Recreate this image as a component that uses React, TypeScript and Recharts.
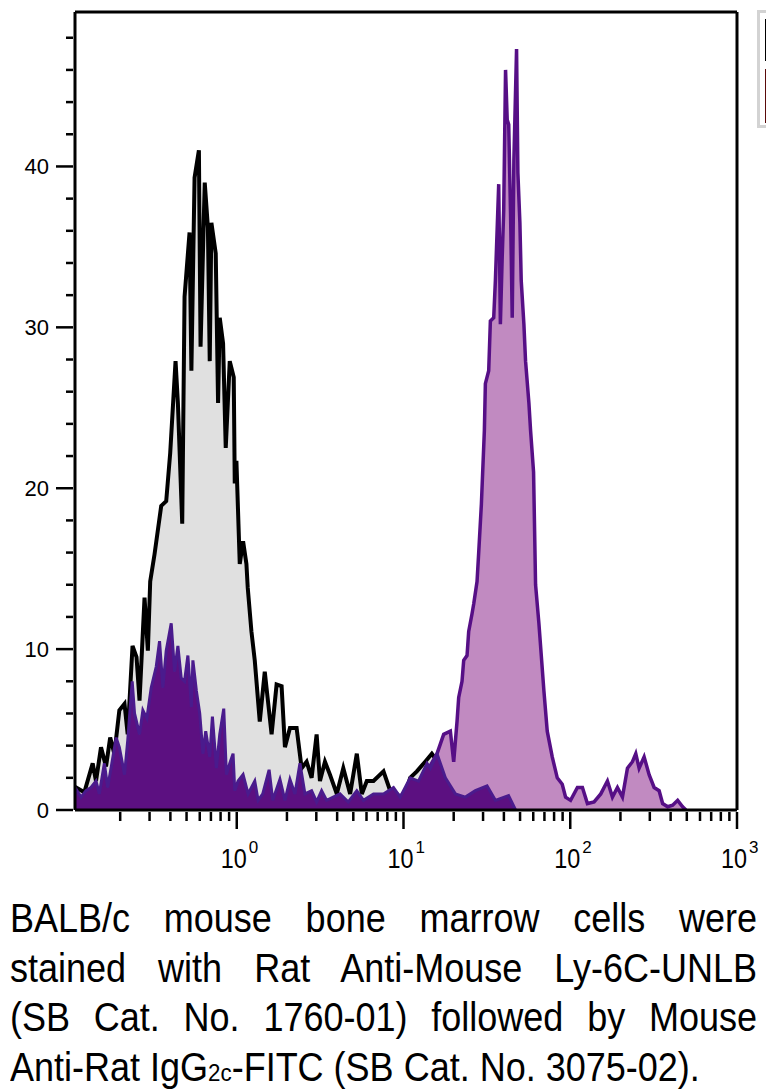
import React from 'react';
import { ComposedChart, Area, XAxis, YAxis, ReferenceLine } from 'recharts';

// x values are log10 of fluorescence intensity, y values are cell counts
const unstained: [number, number][] = [
  [-0.97, 1.3], [-0.964, 1.4], [-0.914, 1.1], [-0.864, 2.9], [-0.844, 1.8], [-0.814, 3.9],
  [-0.784, 2.7], [-0.759, 4.5], [-0.734, 3.5], [-0.704, 6.2], [-0.673, 6.6], [-0.654, 4.7],
  [-0.625, 10.2], [-0.601, 9.5], [-0.583, 6.8], [-0.553, 13.2], [-0.533, 9.9], [-0.519, 14.2],
  [-0.493, 15.9], [-0.453, 18.9], [-0.423, 19.2], [-0.399, 22.2], [-0.367, 27.9], [-0.353, 25.3],
  [-0.327, 17.8], [-0.313, 31.9], [-0.283, 35.9], [-0.272, 27.3], [-0.253, 39.3], [-0.227, 41.0],
  [-0.217, 28.8], [-0.192, 39.0], [-0.173, 36.2], [-0.162, 27.9], [-0.152, 36.5], [-0.126, 34.6],
  [-0.112, 25.3], [-0.102, 30.6], [-0.082, 29.0], [-0.066, 22.5], [-0.042, 27.9], [-0.018, 26.9],
  [-0.012, 20.3], [-0.002, 21.7], [0.018, 15.3], [0.038, 16.7], [0.058, 15.3], [0.066, 13.8],
  [0.088, 11.1], [0.108, 9.3], [0.138, 5.5], [0.168, 8.6], [0.209, 4.7], [0.239, 7.8],
  [0.269, 7.7], [0.289, 3.9], [0.319, 5.1], [0.359, 5.1], [0.389, 2.6], [0.419, 3.0],
  [0.449, 2.0], [0.479, 4.7], [0.499, 1.8], [0.529, 3.0], [0.559, 2.2], [0.6, 1.0],
  [0.639, 2.6], [0.68, 1.0], [0.72, 3.5], [0.75, 1.0], [0.78, 1.8], [0.82, 1.8],
  [0.88, 2.4], [0.92, 1.2], [0.96, 1.0], [1.0, 0.6], [1.04, 2.0], [1.08, 2.4],
  [1.13, 3.0], [1.17, 3.5], [1.22, 2.8], [1.3, 1.5], [1.4, 0.5], [1.5, 0],
];

const ly6cStained: [number, number][] = [
  [0.8, 0.3], [0.89, 0.6], [0.95, 0.8], [1.01, 1.0], [1.07, 1.5], [1.13, 2.2],
  [1.201, 3.5], [1.241, 4.7], [1.281, 4.9], [1.301, 3.0], [1.321, 5.5], [1.331, 7.0],
  [1.351, 8.0], [1.361, 9.3], [1.381, 9.6], [1.391, 11.1], [1.411, 12.2], [1.421, 12.8],
  [1.441, 14.2], [1.451, 16.0], [1.467, 19.0], [1.485, 23.6], [1.491, 26.5], [1.511, 27.3],
  [1.521, 30.4], [1.541, 30.6], [1.551, 32.9], [1.571, 38.9], [1.581, 30.2], [1.592, 34.4],
  [1.601, 37.3], [1.612, 46.0], [1.622, 42.9], [1.631, 42.6], [1.642, 37.1], [1.652, 30.6],
  [1.662, 40.4], [1.678, 47.3], [1.686, 39.6], [1.698, 36.5], [1.706, 32.9], [1.722, 30.2],
  [1.732, 27.9], [1.752, 25.3], [1.762, 23.6], [1.78, 21.0], [1.792, 14.0], [1.812, 11.6],
  [1.842, 7.4], [1.862, 4.9], [1.892, 3.3], [1.922, 2.0], [1.952, 1.6], [1.972, 0.8],
  [2.002, 0.6], [2.043, 1.4], [2.073, 1.4], [2.103, 0.4], [2.143, 0.5], [2.183, 1.0],
  [2.223, 1.8], [2.253, 0.8], [2.283, 1.4], [2.313, 0.8], [2.343, 2.6], [2.373, 3.0],
  [2.393, 3.5], [2.413, 2.6], [2.443, 3.3], [2.473, 2.2], [2.503, 1.4], [2.533, 1.2],
  [2.554, 0.4], [2.584, 0.2], [2.614, 0.3], [2.644, 0.6], [2.674, 0.2], [2.694, 0],
];

const isotypeControl: [number, number][] = [
  [-0.97, 1.2], [-0.964, 1.3], [-0.934, 0.8], [-0.904, 1.2], [-0.874, 1.4], [-0.844, 1.8],
  [-0.824, 1.0], [-0.794, 2.9], [-0.774, 1.4], [-0.754, 2.6], [-0.723, 4.5], [-0.704, 3.9],
  [-0.673, 2.2], [-0.654, 4.3], [-0.627, 8.0], [-0.613, 6.0], [-0.583, 4.7], [-0.563, 6.2],
  [-0.539, 5.7], [-0.513, 7.6], [-0.483, 8.9], [-0.463, 10.5], [-0.443, 7.6], [-0.423, 9.9],
  [-0.393, 11.6], [-0.373, 8.6], [-0.353, 10.2], [-0.333, 8.2], [-0.313, 8.0], [-0.293, 9.6],
  [-0.272, 6.4], [-0.263, 9.3], [-0.242, 7.4], [-0.222, 6.0], [-0.203, 3.5], [-0.186, 4.9],
  [-0.162, 3.3], [-0.146, 5.8], [-0.122, 2.6], [-0.102, 4.7], [-0.078, 6.3], [-0.062, 2.2],
  [-0.042, 2.9], [-0.022, 3.5], [-0.012, 1.2], [0.008, 1.8], [0.038, 2.2], [0.068, 1.0],
  [0.108, 1.8], [0.128, 0.6], [0.156, 1.0], [0.194, 2.5], [0.216, 0.6], [0.259, 1.9],
  [0.289, 0.6], [0.319, 1.9], [0.349, 1.0], [0.379, 2.9], [0.409, 1.0], [0.449, 1.2],
  [0.479, 0.5], [0.509, 1.2], [0.539, 0.6], [0.619, 1.0], [0.669, 0.5], [0.72, 1.2],
  [0.76, 0.6], [0.82, 1.0], [0.88, 1.0], [0.94, 1.4], [0.98, 0.8], [1.04, 2.0],
  [1.09, 1.8], [1.141, 2.9], [1.161, 2.6], [1.201, 3.5], [1.251, 2.0], [1.311, 1.0],
  [1.371, 0.8], [1.431, 1.2], [1.501, 1.5], [1.551, 0.6], [1.63, 0.9], [1.672, 0],
];

const decades = [0, 1, 2, 3];
const yTicks = [0, 2, 4, 6, 8, 10, 12, 14, 16, 18, 20, 22, 24, 26, 28, 30, 32, 34, 36, 38, 40, 42, 44, 46, 48];
const caption = [
  'BALB/c mouse bone marrow cells were',
  'stained with Rat Anti-Mouse Ly-6C-UNLB',
  '(SB Cat. No. 1760-01) followed by Mouse',
];

const X_MIN = -0.97;
const X_MAX = 3;
const Y_MAX = 49.6;
const CAPTION_SQUEEZE = 0.9;

const toPoints = (arr: [number, number][]) => arr.map(([x, y]) => ({ x, y }));

// minor ticks at 2..9 x 10^k, major ticks at the decades
const xTicks: number[] = [];
for (let d = -1; d <= 2; d++) {
  xTicks.push(d);
  for (let k = 2; k <= 9; k++) xTicks.push(d + Math.log10(k));
}
xTicks.push(3);
const xTicksInRange = xTicks.filter((t) => t >= X_MIN && t <= X_MAX);

const sans = '"Liberation Sans", Arial, sans-serif';

function XTick(props: any) {
  const { x, y, payload } = props;
  const v = payload.value;
  const major = decades.some((d) => Math.abs(d - v) < 1e-6);
  return (
    <g>
      <line x1={x} x2={x} y1={y} y2={y + (major ? 17 : 9)} stroke="#000" strokeWidth={2.5} />
      {major && (
        <>
          <text
            x={x - 3}
            y={y + 56}
            textAnchor="middle"
            fontFamily={sans}
            fontSize={28}
            textLength={26}
            lengthAdjust="spacingAndGlyphs"
            fill="#000"
          >
            10
          </text>
          <text x={x + 12} y={y + 41} textAnchor="start" fontFamily={sans} fontSize={17} fill="#000">
            {Math.round(v)}
          </text>
        </>
      )}
    </g>
  );
}

function YTick(props: any) {
  const { x, y, payload } = props;
  const v = payload.value;
  const major = v % 10 === 0;
  return (
    <g>
      <line x1={x - (major ? 17 : 7)} x2={x} y1={y} y2={y} stroke="#000" strokeWidth={2.5} />
      {major && (
        <text x={x - 24} y={y} dy="0.36em" textAnchor="end" fontFamily={sans} fontSize={22} fill="#000">
          {v}
        </text>
      )}
    </g>
  );
}

export default function App() {
  return (
    <div
      style={{
        position: 'absolute',
        left: 0,
        top: 0,
        width: 766,
        height: 1092,
        overflow: 'hidden',
        background: '#fff',
      }}
    >
      <ComposedChart width={766} height={880} margin={{ top: 12, right: 29, bottom: 0, left: 0 }}>
        <XAxis
          type="number"
          dataKey="x"
          domain={[X_MIN, X_MAX]}
          ticks={xTicksInRange}
          interval={0}
          allowDataOverflow
          height={70}
          tickSize={0}
          tickLine={false}
          axisLine={{ stroke: '#000', strokeWidth: 3 }}
          tick={<XTick />}
        />
        <YAxis
          type="number"
          domain={[0, Y_MAX]}
          ticks={yTicks}
          interval={0}
          allowDataOverflow
          width={75}
          tickSize={0}
          tickLine={false}
          axisLine={{ stroke: '#000', strokeWidth: 3 }}
          tick={<YTick />}
        />
        <Area
          data={toPoints(unstained)}
          dataKey="y"
          type="linear"
          fill="#e0e0e0"
          fillOpacity={1}
          stroke="#000"
          strokeWidth={4}
          isAnimationActive={false}
        />
        <Area
          data={toPoints(ly6cStained)}
          dataKey="y"
          type="linear"
          fill="#c18ac1"
          fillOpacity={1}
          stroke="#560f86"
          strokeWidth={3.5}
          isAnimationActive={false}
        />
        <Area
          data={toPoints(isotypeControl)}
          dataKey="y"
          type="linear"
          fill="#5c1081"
          fillOpacity={1}
          stroke="#4a1b8d"
          strokeWidth={3}
          isAnimationActive={false}
        />
        <ReferenceLine y={Y_MAX} stroke="#000" strokeWidth={3} />
        <ReferenceLine x={X_MAX} stroke="#000" strokeWidth={3} />
      </ComposedChart>

      {/* cut-off legend box at the top right */}
      <div
        style={{
          position: 'absolute',
          left: 757,
          top: 10,
          width: 20,
          height: 112,
          border: '3px solid #d3d3d3',
        }}
      >
        <div style={{ position: 'absolute', left: 5, top: 6, width: 4, height: 42, background: '#000' }} />
        <div style={{ position: 'absolute', left: 5, top: 56, width: 4, height: 54, background: '#5a0a0a' }} />
      </div>

      <div
        style={{
          position: 'absolute',
          left: 10,
          top: 894,
          width: 747 / CAPTION_SQUEEZE,
          transform: `scaleX(${CAPTION_SQUEEZE})`,
          transformOrigin: 'left top',
          fontFamily: sans,
          fontSize: 40,
          lineHeight: '49.5px',
          color: '#000',
        }}
      >
        {caption.map((line) => (
          <div key={line} style={{ textAlign: 'justify', textAlignLast: 'justify' }}>
            {line}
          </div>
        ))}
        <div style={{ textAlign: 'left', whiteSpace: 'nowrap' }}>
          Anti-Rat IgG<span style={{ fontSize: '0.62em' }}>2c</span>-FITC (SB Cat. No. 3075-02).
        </div>
      </div>
    </div>
  );
}
